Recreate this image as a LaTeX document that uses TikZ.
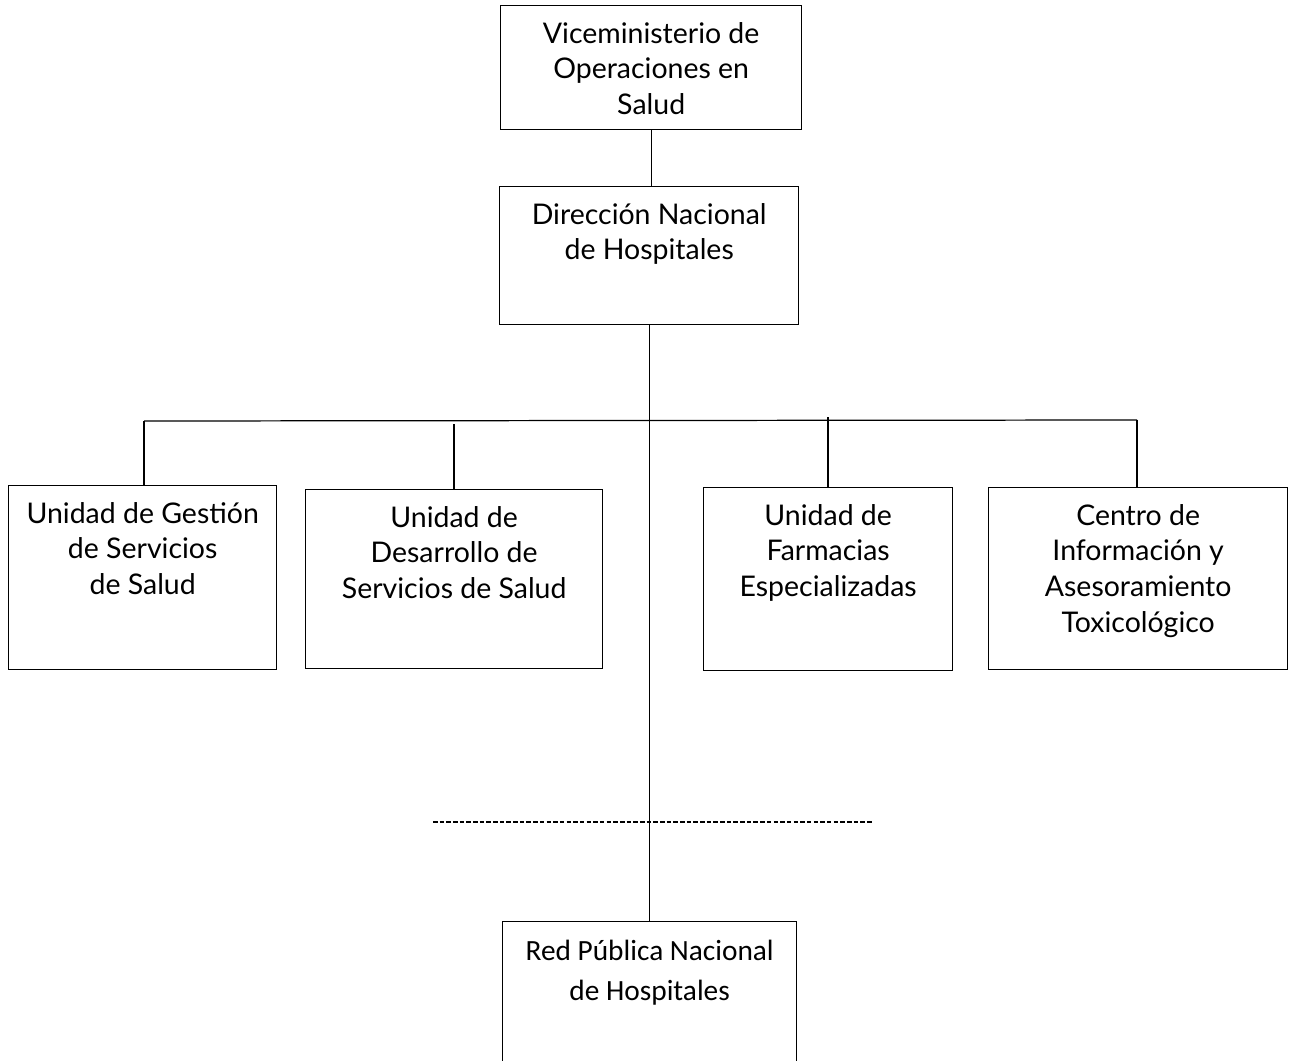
\documentclass[tikz,border=0pt]{standalone}
\usepackage{fontspec}
\setmainfont{Lato}
\newfontfamily\calfont{Carlito}
\usetikzlibrary{positioning}
\tikzset{
  orgbox/.style={rectangle,draw=black,line width=0.8pt,inner sep=0pt,
    anchor=north west},
  boxtxt/.style={font=\fontsize{16.2}{20.4}\selectfont,align=center,
    anchor=north,inner sep=0pt,yshift=-9.5pt},
  redtxt/.style={boxtxt,font=\calfont\fontsize{16.7}{23.2}\selectfont,yshift=-1pt},
  link/.style={line width=0.7pt},
  cut/.style={line width=0.8pt,dash pattern=on 2.6pt off 1.2pt},
}
\begin{document}
\begin{tikzpicture}[x=0.02cm,y=-0.02cm]
  \useasboundingbox (0,0) rectangle (1292,1061);
  \begin{scope}
    \clip (0,0) rectangle (1292,1061);
  % boxes
  \node[orgbox,minimum width=6.02cm,minimum height=2.48cm,
    label={[boxtxt]north:Viceministerio de\\Operaciones en\\Salud}] (vice) at (500,5) {};
  \node[orgbox,minimum width=5.98cm,minimum height=2.76cm,
    label={[boxtxt]north:Dirección Nacional\\de Hospitales}] (dnh) at (499,186) {};
  \node[orgbox,minimum width=5.36cm,minimum height=3.68cm,
    label={[boxtxt]north:Unidad de Gestión\\de Servicios\\de Salud}] (ugss) at (8,485) {};
  \node[orgbox,minimum width=5.94cm,minimum height=3.58cm,
    label={[boxtxt]north:Unidad de\\Desarrollo de\\Servicios de Salud}] (udss) at (305,489) {};
  \node[orgbox,minimum width=4.98cm,minimum height=3.66cm,
    label={[boxtxt]north:Unidad de\\Farmacias\\Especializadas}] (ufe) at (703,487) {};
  \node[orgbox,minimum width=5.98cm,minimum height=3.64cm,
    label={[boxtxt]north:Centro de\\Información y\\Asesoramiento\\Toxicológico}] (ciat) at (988,487) {};
  \node[orgbox,minimum width=5.88cm,minimum height=3.4cm,
    label={[redtxt]north:Red Pública Nacional\\de Hospitales}] (rpnh) at (502,921) {};
  \end{scope}

  % branch points on the bar
  \coordinate (bl) at (144,421);
  \coordinate (br) at (1137,420);
  \coordinate (b2) at (454,424);
  \coordinate (b3) at (828,417);
  \coordinate (cl) at (433,822);
  \coordinate (cr) at (873,822);

  \draw[link] (vice.south) -- (vice.south |- dnh.north);
  \draw[link] (dnh.south -| rpnh.north) -- (rpnh.north);
  \draw[link] (bl) -- (br);
  \draw[link] (bl) -- (bl |- ugss.north);
  \draw[link] (b2) -- (b2 |- udss.north);
  \draw[link] (b3) -- (b3 |- ufe.north);
  \draw[link] (br) -- (br |- ciat.north);
  \draw[cut] (cl) -- (cr);
\end{tikzpicture}
\end{document}
